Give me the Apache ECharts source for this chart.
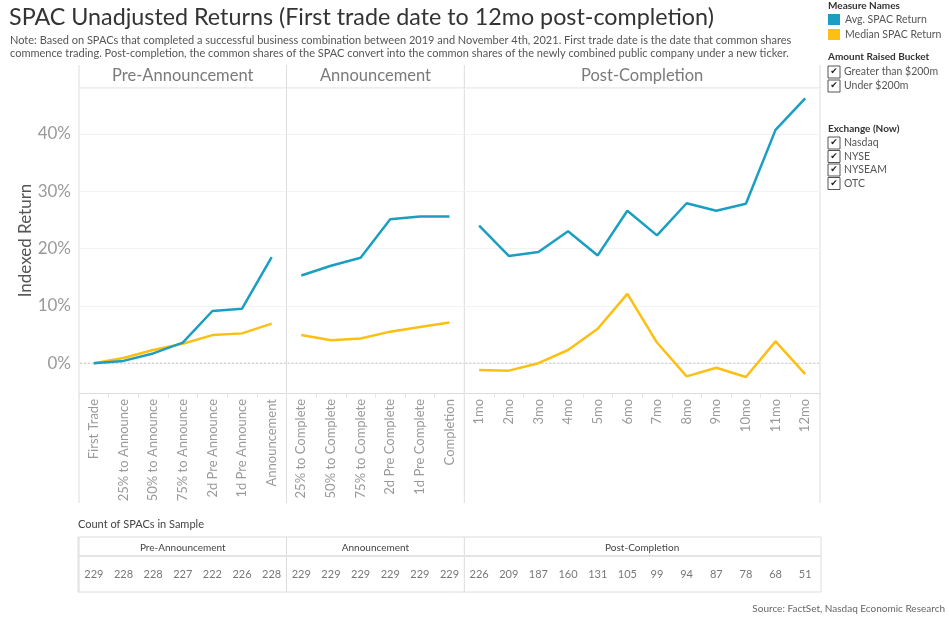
<!DOCTYPE html>
<html>
<head>
<meta charset="utf-8">
<script src="https://cdn.jsdelivr.net/npm/echarts@6/dist/echarts.min.js"></script>
<style>
  html, body { margin: 0; padding: 0; background: #fff; }
  #chart { width: 949px; height: 620px; }
</style>
</head>
<body>
<div id="chart"></div>
<script>
// stage categories
const preCats = ['First Trade', '25% to Announce', '50% to Announce', '75% to Announce', '2d Pre Announce', '1d Pre Announce', 'Announcement'];
const annCats = ['25% to Complete', '50% to Complete', '75% to Complete', '2d Pre Complete', '1d Pre Complete', 'Completion'];
const postCats = ['1mo', '2mo', '3mo', '4mo', '5mo', '6mo', '7mo', '8mo', '9mo', '10mo', '11mo', '12mo'];
const panelTitles = ['Pre-Announcement', 'Announcement', 'Post-Completion'];

// indexed returns, percent
const preAvg = [0.0, 0.4, 1.7, 3.6, 9.1, 9.5, 18.5];
const preMedian = [0.0, 0.9, 2.3, 3.4, 4.9, 5.2, 6.9];
const annAvg = [15.3, 17.0, 18.4, 25.1, 25.6, 25.6];
const annMedian = [4.9, 4.0, 4.3, 5.5, 6.3, 7.1];
const postAvg = [24.0, 18.7, 19.4, 23.0, 18.8, 26.6, 22.3, 27.9, 26.6, 27.8, 40.7, 46.2];
const postMedian = [-1.2, -1.3, 0.0, 2.3, 6.0, 12.1, 3.6, -2.3, -0.8, -2.4, 3.8, -1.9];

// count of SPACs in sample
const preCount = [229, 228, 228, 227, 222, 226, 228];
const annCount = [229, 229, 229, 229, 229, 229];
const postCount = [226, 209, 187, 160, 131, 105, 99, 94, 87, 78, 68, 51];

const amountBuckets = ['Greater than $200m', 'Under $200m'];
const exchanges = ['Nasdaq', 'NYSE', 'NYSEAM', 'OTC'];

const AVG_COLOR = '#1a9fc2';
const MED_COLOR = '#fdbf12';
const FONT = 'Lato';

const LEFT = 79, RIGHT = 820;
const PLOT_TOP = 88, PLOT_H = 305;
const TABLE_TOP = 537, TABLE_HEAD = 19, TABLE_BOTTOM = 592;

const panels = [
    { cats: preCats, avg: preAvg, med: preMedian, count: preCount },
    { cats: annCats, avg: annAvg, med: annMedian, count: annCount },
    { cats: postCats, avg: postAvg, med: postMedian, count: postCount }
];
const totalCats = panels.reduce((s, p) => s + p.cats.length, 0);
const band = (RIGHT - LEFT) / totalCats;

let x = LEFT;
panels.forEach(p => {
    p.x = x;
    p.w = p.cats.length * band;
    x += p.w;
});

const grids = [], xAxes = [], yAxes = [], series = [];
const graphics = [];
const lineGray = '#dcdcdc';

panels.forEach((p, i) => {
    // chart panel
    grids.push({ left: p.x, top: PLOT_TOP, width: p.w, height: PLOT_H });
    xAxes.push({
        type: 'category', gridIndex: i, data: p.cats, boundaryGap: true,
        axisLine: { onZero: false, lineStyle: { color: lineGray } },
        axisTick: { show: true, length: 5, lineStyle: { color: '#e6e6e6' } },
        axisLabel: { rotate: 90, interval: 0, margin: 6, color: '#9a9a9a', fontSize: 13, fontFamily: FONT }
    });
    yAxes.push({
        type: 'value', gridIndex: i, min: -5.2, max: 48, splitNumber: 5,
        axisLine: { show: false }, axisTick: { show: false },
        axisLabel: {
            show: i === 0, color: '#9a9a9a', fontSize: 17, fontFamily: FONT, margin: 8,
            showMinLabel: false, showMaxLabel: false, formatter: v => v + '%'
        },
        splitLine: { lineStyle: { color: '#f3f3f3' } },
        name: i === 0 ? 'Indexed Return' : '', nameLocation: 'middle', nameGap: 45,
        nameTextStyle: { color: '#555', fontSize: 17, fontFamily: FONT }
    });
    series.push({
        name: 'Avg. SPAC Return', type: 'line', xAxisIndex: i, yAxisIndex: i,
        data: p.avg, showSymbol: false, lineStyle: { width: 2.5, color: AVG_COLOR }, itemStyle: { color: AVG_COLOR },
        z: 3
    });
    series.push({
        name: 'Median SPAC Return', type: 'line', xAxisIndex: i, yAxisIndex: i,
        data: p.med, showSymbol: false, lineStyle: { width: 2.5, color: MED_COLOR }, itemStyle: { color: MED_COLOR },
        z: 2
    });

    // panel header
    graphics.push({
        type: 'text', silent: true,
        x: p.x + p.w / 2, y: 76,
        style: { text: panelTitles[i], fill: '#7a7a7a', font: '16.5px ' + FONT, textAlign: 'center', textVerticalAlign: 'middle' }
    });
    // panel separator
    graphics.push({
        type: 'line', silent: true,
        shape: { x1: p.x, y1: 65, x2: p.x, y2: 503 },
        style: { stroke: lineGray, lineWidth: 1 }
    });
    // table separators and header
    graphics.push({
        type: 'line', silent: true,
        shape: { x1: p.x, y1: TABLE_TOP, x2: p.x, y2: TABLE_BOTTOM },
        style: { stroke: lineGray, lineWidth: 1 }
    });
    graphics.push({
        type: 'text', silent: true,
        x: p.x + p.w / 2, y: TABLE_TOP + TABLE_HEAD / 2 + 1,
        style: { text: panelTitles[i], fill: '#444', font: '10px ' + FONT, textAlign: 'center', textVerticalAlign: 'middle' }
    });
});

// count table rows
panels.forEach((p, i) => {
    const gi = panels.length + i;
    grids.push({ left: p.x, top: TABLE_TOP + TABLE_HEAD, width: p.w, height: TABLE_BOTTOM - TABLE_TOP - TABLE_HEAD });
    xAxes.push({ type: 'category', gridIndex: gi, data: p.cats, show: false });
    yAxes.push({ type: 'value', gridIndex: gi, min: -1, max: 1, show: false });
    series.push({
        type: 'scatter', xAxisIndex: gi, yAxisIndex: gi, silent: true,
        symbolSize: 1, itemStyle: { color: 'rgba(0,0,0,0)' },
        data: p.count.map((c, k) => [k, 0, c]),
        label: {
            show: true, position: 'inside', formatter: q => q.value[2],
            color: '#555', fontSize: 11, fontFamily: FONT
        }
    });
});

// right border and header rule
graphics.push({ type: 'line', silent: true, shape: { x1: RIGHT, y1: 65, x2: RIGHT, y2: 503 }, style: { stroke: lineGray, lineWidth: 1 } });
graphics.push({ type: 'line', silent: true, shape: { x1: LEFT, y1: 88, x2: RIGHT, y2: 88 }, style: { stroke: lineGray, lineWidth: 1 } });

// table frame
graphics.push({ type: 'rect', silent: true, shape: { x: LEFT - 1, y: TABLE_TOP, width: RIGHT - LEFT + 2, height: TABLE_BOTTOM - TABLE_TOP }, style: { fill: 'none', stroke: lineGray, lineWidth: 1 } });
graphics.push({ type: 'line', silent: true, shape: { x1: LEFT - 1, y1: TABLE_TOP + TABLE_HEAD, x2: RIGHT + 1, y2: TABLE_TOP + TABLE_HEAD }, style: { stroke: '#e4e4e4', lineWidth: 2 } });
graphics.push({ type: 'text', silent: true, x: 78, y: 524, style: { text: 'Count of SPACs in Sample', fill: '#444', font: '11px ' + FONT, textVerticalAlign: 'middle' } });

// title & notes
graphics.push({ type: 'text', silent: true, x: 9, y: 17, style: { text: 'SPAC Unadjusted Returns (First trade date to 12mo post-completion)', fill: '#333', font: '23.3px ' + FONT, textVerticalAlign: 'middle' } });
graphics.push({ type: 'text', silent: true, x: 10, y: 40, style: { text: 'Note: Based on SPACs that completed a successful business combination between 2019 and November 4th, 2021. First trade date is the date that common shares', fill: '#555', font: '11px ' + FONT, textVerticalAlign: 'middle' } });
graphics.push({ type: 'text', silent: true, x: 10, y: 53, style: { text: 'commence trading. Post-completion, the common shares of the SPAC convert into the common shares of the newly combined public company under a new ticker.', fill: '#555', font: '11px ' + FONT, textVerticalAlign: 'middle' } });
graphics.push({ type: 'text', silent: true, x: 945, y: 609, style: { text: 'Source: FactSet, Nasdaq Economic Research', fill: '#666', font: '10px ' + FONT, textAlign: 'right', textVerticalAlign: 'middle' } });

// filter panel
function heading(text, y) {
    graphics.push({ type: 'text', silent: true, x: 828, y: y, style: { text: text, fill: '#333', font: 'bold 10px ' + FONT, textVerticalAlign: 'middle' } });
}
function checkbox(text, y) {
    graphics.push({ type: 'rect', silent: true, shape: { x: 828, y: y - 6, width: 12, height: 12 }, style: { fill: '#fff', stroke: '#555', lineWidth: 1 } });
    graphics.push({ type: 'text', silent: true, x: 834, y: y, style: { text: '✔', fill: '#222', font: '9px DejaVu Sans', textAlign: 'center', textVerticalAlign: 'middle' } });
    graphics.push({ type: 'text', silent: true, x: 844, y: y, style: { text: text, fill: '#555', font: '10.5px ' + FONT, textVerticalAlign: 'middle' } });
}
heading('Measure Names', 6);
heading('Amount Raised Bucket', 57);
amountBuckets.forEach((t, k) => checkbox(t, 72 + k * 14));
heading('Exchange (Now)', 129);
exchanges.forEach((t, k) => checkbox(t, 143 + k * 13.5));

const chart = echarts.init(document.getElementById('chart'));
chart.setOption({
    animation: false,
    textStyle: { fontFamily: FONT },
    legend: {
        orient: 'vertical', left: 828, top: 14, padding: 0, itemGap: 4,
        itemWidth: 12, itemHeight: 11, icon: 'rect',
        data: ['Avg. SPAC Return', 'Median SPAC Return'],
        textStyle: { color: '#555', fontSize: 10.5, fontFamily: FONT },
        selectedMode: false
    },
    grid: grids,
    xAxis: xAxes,
    yAxis: yAxes,
    series: series,
    graphic: graphics
});

// dotted zero reference line in each panel, placed through the y scale
const zeroLines = panels.map((p, i) => {
    const y0 = chart.convertToPixel({ yAxisIndex: i }, 0);
    return {
        type: 'line', silent: true, z: 1,
        shape: { x1: p.x + 1, y1: y0, x2: p.x + p.w, y2: y0 },
        style: { stroke: '#c4c4c4', lineWidth: 1, lineDash: [2, 2] }
    };
});
chart.setOption({ graphic: graphics.concat(zeroLines) });
</script>
</body>
</html>
